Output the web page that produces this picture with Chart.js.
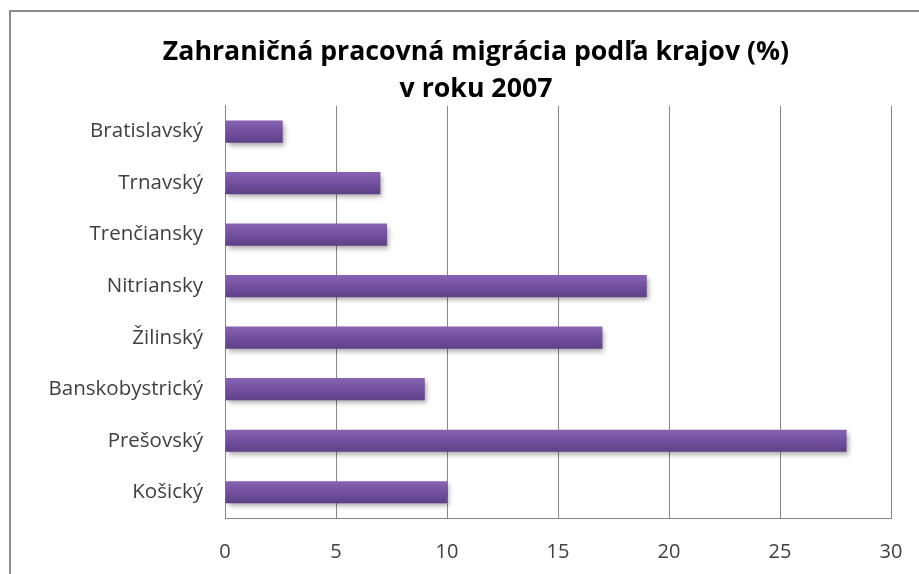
<!DOCTYPE html>
<html>
<head>
<meta charset="utf-8">
<script src="https://cdn.jsdelivr.net/npm/chart.js@4/dist/chart.umd.min.js"></script>
<style>
    html, body { margin: 0; padding: 0; background: #fff; }
    #wrap { position: relative; width: 919px; height: 574px; }
    #ramec { position: absolute; left: 9px; top: 10px; width: 920px; height: 570px;
             border-top: 2px solid #8a8a8a; border-left: 2px solid #8a8a8a; box-sizing: border-box; }
    canvas { position: absolute; left: 0; top: 0; }
</style>
</head>
<body>
<div id="wrap">
    <div id="ramec"></div>
    <canvas id="grafKraje" width="919" height="574"></canvas>
</div>
<script>
// Kraje a hodnoty (%)
var kraje = ['Bratislavský', 'Trnavský', 'Trenčiansky', 'Nitriansky', 'Žilinský', 'Banskobystrický', 'Prešovský', 'Košický'];
var hodnoty = [2.6, 7.0, 7.3, 19.0, 17.0, 9.0, 28.0, 10.0];
var nadpis = ['Zahraničná pracovná migrácia podľa krajov (%)', 'v roku 2007'];

var pismo = "'Open Sans', Lato, sans-serif";

//Tien pod stlpcami
var tienPlugin = {
    id: 'tien',
    beforeDatasetsDraw: function(chart) {
        var c = chart.ctx;
        c.save();
        c.shadowColor = 'rgba(0,0,0,0.35)';
        c.shadowBlur = 5;
        c.shadowOffsetX = 2;
        c.shadowOffsetY = 3;
    },
    afterDatasetsDraw: function(chart) {
        chart.ctx.restore();
    }
};

//Posunieme nadpis trochu doprava
var posunNadpisu = {
    id: 'posunNadpisu',
    afterLayout: function(chart) {
        if (chart.titleBlock) {
            var stred = (chart.titleBlock.left + chart.titleBlock.right) / 2;
            chart.titleBlock.left += 476 - stred;
            chart.titleBlock.right += 476 - stred;
        }
    }
};

function farbaStlpca(context) {
    var chart = context.chart;
    var y = chart.scales.y;
    if (!y || context.dataIndex === undefined) return '#724e9e';
    var stred = y.getPixelForValue(context.dataIndex);
    var vyska = (y.bottom - y.top) / kraje.length * 0.43;
    if (!isFinite(stred) || !isFinite(vyska) || vyska <= 0) return '#724e9e';
    var g = chart.ctx.createLinearGradient(0, stred - vyska / 2, 0, stred + vyska / 2);
    g.addColorStop(0, '#8763b2');
    g.addColorStop(0.5, '#734fa0');
    g.addColorStop(1, '#5e4087');
    return g;
}

var ctx = document.getElementById('grafKraje').getContext('2d');
var myChart = new Chart(ctx, {
    type: 'bar',
    data: {
        labels: kraje,
        datasets: [{
            data: hodnoty,
            backgroundColor: farbaStlpca,
            borderWidth: 0,
            barPercentage: 0.43,
            categoryPercentage: 1
        }]
    },
    plugins: [tienPlugin, posunNadpisu],
    options: {
        indexAxis: 'y',
        responsive: false,
        animation: false,
        layout: { padding: { left: 0, right: 28, top: 0, bottom: 0 } },
        plugins: {
            legend: { display: false },
            tooltip: { enabled: false },
            title: {
                display: true,
                text: nadpis,
                color: '#000',
                font: { family: pismo, size: 26.7, weight: 'bold', lineHeight: 1.42 },
                padding: { top: 33, bottom: -3 }
            }
        },
        scales: {
            x: {
                min: 0,
                max: 30,
                ticks: { stepSize: 5, color: '#404040', padding: 22, font: { family: pismo, size: 20 } },
                grid: { color: '#878787', lineWidth: 1, drawTicks: false },
                border: { color: '#878787', width: 1 },
                afterFit: function(scale) {
                    scale.height = 56;
                    scale.paddingLeft = 0;
                    scale.paddingRight = 0;
                }
            },
            y: {
                ticks: { color: '#404040', padding: 22, font: { family: pismo, size: 20.5 } },
                grid: { display: false, drawTicks: false },
                border: { color: '#878787', width: 1 },
                afterFit: function(scale) { scale.width = 225; }
            }
        }
    }
});
</script>
</body>
</html>
